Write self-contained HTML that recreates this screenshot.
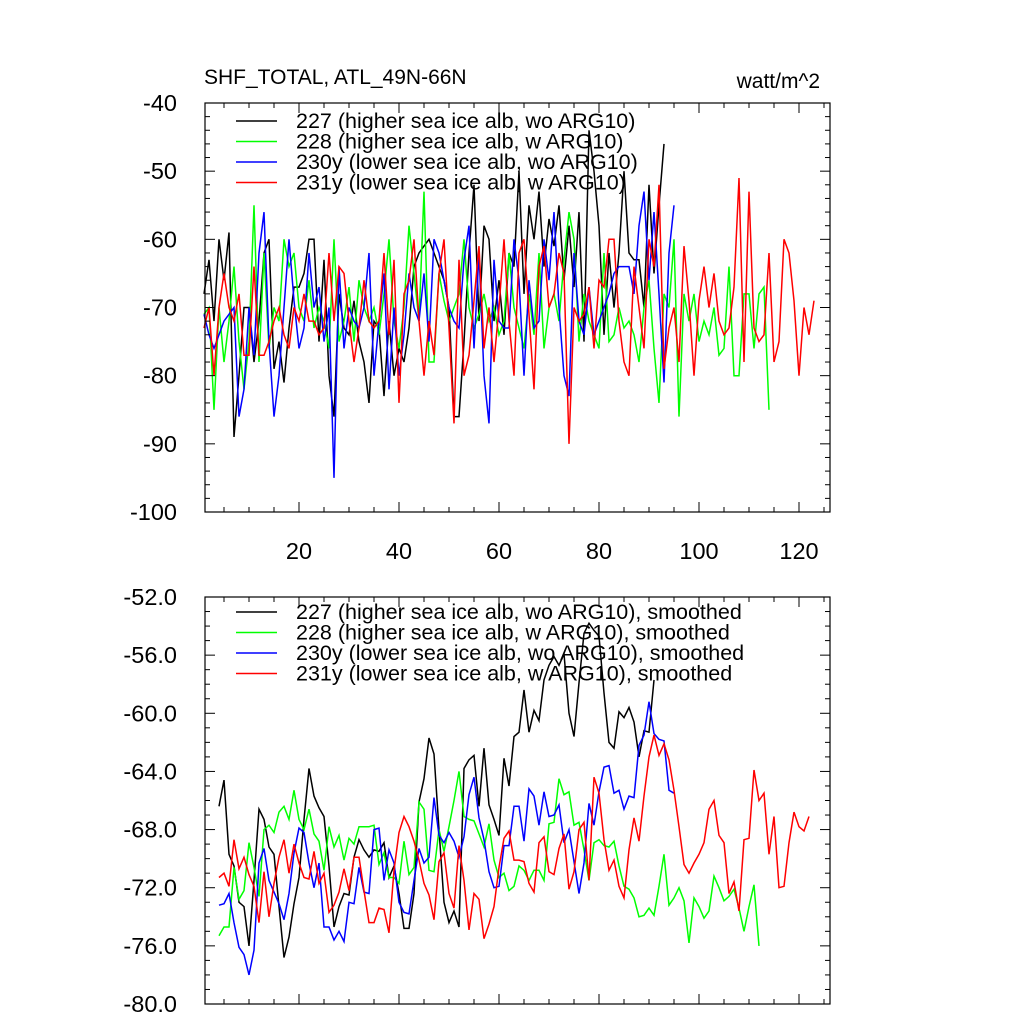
<!DOCTYPE html>
<html><head><meta charset="utf-8"><style>
body{margin:0;background:#fff}
svg text{font-family:"Liberation Sans",sans-serif;fill:#000}
</style></head><body>
<svg id="c" width="1024" height="1024" xmlns="http://www.w3.org/2000/svg"></svg>
<script>
const topBlack=[-68,-63,-72,-60,-66,-59,-89,-80,-70,-70,-78,-72,-62,-60,-79,-75,-81,-73,-67,-67,-65,-60,-60,-75,-63,-80,-86,-68,-73,-74,-69,-75,-78,-84,-72,-73,-83,-72,-80,-76,-78,-73,-64,-62,-61,-60,-62,-64,-66,-70,-86,-86,-75,-62,-52,-72,-58,-60,-72,-66,-74,-62,-64,-50,-68,-55,-60,-53,-64,-57,-61,-55,-66,-58,-67,-56,-75,-44,-50,-58,-74,-62,-70,-62,-50,-62,-63,-63,-70,-52,-65,-55,-46];
const topGreen=[-71,-70,-85,-70,-78,-72,-64,-75,-82,-75,-55,-78,-62,-76,-70,-72,-60,-64,-62,-70,-72,-66,-73,-70,-72,-76,-60,-75,-72,-67,-75,-66,-70,-72,-70,-74,-68,-60,-72,-76,-70,-58,-65,-72,-53,-78,-78,-65,-69,-72,-70,-68,-60,-70,-73,-71,-68,-72,-70,-74,-72,-62,-70,-73,-76,-68,-74,-62,-76,-70,-68,-72,-63,-56,-60,-75,-68,-72,-74,-76,-62,-75,-74,-70,-73,-72,-74,-78,-70,-66,-76,-84,-68,-70,-60,-86,-68,-72,-68,-75,-72,-74,-70,-77,-76,-64,-80,-80,-68,-68,-76,-68,-67,-85];
const topBlue=[-71,-74,-76,-74,-72,-71,-70,-86,-82,-70,-77,-62,-56,-75,-86,-80,-70,-60,-69,-76,-73,-62,-70,-67,-75,-70,-95,-64,-76,-70,-72,-73,-70,-62,-80,-72,-65,-82,-70,-80,-74,-65,-70,-72,-65,-75,-60,-62,-66,-70,-72,-73,-63,-58,-76,-62,-80,-87,-63,-72,-73,-73,-60,-66,-80,-66,-73,-72,-60,-66,-56,-70,-80,-83,-62,-72,-74,-67,-74,-72,-70,-68,-65,-64,-64,-64,-68,-58,-53,-66,-56,-68,-81,-62,-55];
const topRed=[-73,-70,-80,-70,-65,-70,-72,-68,-77,-77,-64,-77,-77,-75,-72,-70,-74,-76,-70,-72,-68,-72,-72,-74,-73,-62,-72,-64,-65,-72,-78,-73,-66,-72,-73,-72,-62,-74,-63,-84,-68,-66,-60,-72,-80,-72,-77,-65,-60,-73,-87,-63,-80,-77,-69,-61,-76,-70,-78,-70,-60,-72,-80,-62,-60,-71,-82,-64,-61,-70,-68,-62,-65,-90,-70,-72,-71,-67,-76,-66,-67,-60,-60,-72,-78,-80,-64,-70,-76,-60,-64,-52,-79,-73,-70,-78,-61,-69,-80,-69,-64,-70,-65,-72,-74,-73,-67,-51,-78,-53,-73,-75,-74,-62,-78,-75,-60,-62,-69,-80,-70,-74,-69];
const botBlack=[-66.4,-64.6,-69.7,-70.5,-73,-73.3,-76,-71.5,-66.6,-67.3,-69.2,-69.7,-73.3,-76.8,-75.4,-73.1,-71.3,-67.3,-63.8,-65.7,-66.5,-67.1,-70.5,-74.7,-73.3,-72.4,-72.5,-69.9,-68.7,-69.4,-69.9,-69.4,-69.5,-68.9,-71.3,-70.5,-72.4,-74.8,-74.8,-72.4,-66.1,-64.5,-61.7,-62.8,-68,-73,-74.4,-73.6,-74.7,-63.8,-63.2,-62.9,-66.4,-62.4,-66.3,-67.3,-68.4,-63.1,-65,-61.6,-61.3,-58.4,-61.3,-59.8,-60.5,-57.7,-56.7,-56.1,-56.7,-55.9,-60,-61.6,-57.9,-54.5,-53.8,-54.3,-54.7,-58.6,-62,-62.4,-59.9,-60.3,-59.6,-60.6,-63,-61.2,-61.3,-57.7];
const botGreen=[-75.3,-74.7,-74.7,-70.6,-72.8,-72.2,-68.9,-70.6,-72.6,-68,-67.7,-68.2,-66.8,-66.4,-67.3,-65.3,-67.3,-68,-66.6,-68.3,-68.8,-70.8,-67.8,-69.2,-68.4,-70.1,-68.6,-69,-67.8,-67.8,-67.8,-67.7,-70.4,-69.6,-71.3,-71.3,-71.7,-68.8,-71.1,-70.6,-66.1,-66.6,-70.8,-70.9,-68,-69.5,-67.8,-66,-64,-67.1,-67.3,-67.4,-68.3,-69.2,-67.6,-70.1,-71.3,-71,-72.2,-71.9,-70.5,-70.8,-71.5,-70.8,-70.8,-71.5,-67.6,-67.5,-64.5,-65.6,-65.4,-67.7,-67.5,-69.4,-71.5,-68.9,-68.7,-69.1,-69.2,-68.8,-70.5,-71.9,-72.1,-72.7,-74,-73.9,-73.4,-73.9,-71.9,-69.7,-73.2,-72.7,-72,-72.9,-75.8,-72.7,-73.3,-74.1,-73.6,-71.2,-72,-72.9,-72.6,-72.1,-73.4,-75,-73.3,-71.8,-76];
const botBlue=[-73.2,-73.1,-72.4,-74.4,-76.1,-76.6,-78,-76.3,-70.3,-69.3,-71.5,-72.3,-73.1,-74.2,-72.4,-69.6,-67.9,-68.2,-70.3,-72,-70.3,-74.7,-74.7,-75.6,-75,-75.7,-73,-73.1,-70.6,-72.3,-72.4,-68,-67.9,-71.5,-69.4,-70.3,-73,-73.7,-73.8,-71.5,-69.3,-70.3,-69.9,-65.8,-68.4,-68.9,-68.2,-68.8,-69.9,-68.5,-65.6,-64.4,-67.2,-68.7,-70.9,-72,-71.9,-69.1,-69.1,-66.4,-66.4,-68.8,-65.2,-65.7,-67.7,-65.4,-67.1,-67,-66.3,-68.9,-68,-70.2,-72.4,-70.3,-66.2,-67.7,-65.4,-63.7,-63.6,-65.5,-65.3,-66.6,-65.7,-65.8,-62.2,-61.5,-59.2,-61.4,-61.8,-61.9,-65.3,-65.5];
const botRed=[-71.3,-71,-71.9,-68.7,-70.7,-69.9,-71.1,-71.9,-74.4,-70.9,-74,-71.7,-69.9,-68.7,-71,-69,-70.3,-71.3,-71.4,-69.5,-71.7,-71,-73.7,-73.2,-72.3,-70.7,-72.2,-69.9,-69.9,-72.2,-74.4,-74.4,-73.4,-73.5,-75.1,-70.8,-68.2,-67.1,-67.8,-68.8,-70.1,-71.7,-72.5,-74.2,-70.2,-69.6,-72.4,-73.4,-69.1,-71.5,-74.9,-72.4,-72.8,-75.5,-74.5,-73.3,-70.6,-68.6,-68.1,-70.1,-70.1,-70.2,-71.7,-72.3,-68.9,-68.5,-70.9,-71.1,-69.3,-68.3,-72.1,-70.9,-68,-67.5,-71.5,-64.4,-65.5,-68.7,-70.8,-70.1,-71.9,-72.7,-69.4,-67.2,-68.8,-65.7,-63,-61.5,-62.9,-62.1,-63.2,-65.3,-67.8,-70.4,-71,-70.3,-69.7,-68.9,-66.6,-66,-68.4,-68.9,-72.4,-71.6,-73.6,-68.7,-68.6,-63.9,-66,-65.5,-69.7,-67.1,-72,-71.9,-68.9,-66.8,-67.8,-68.1,-67.1];
const topYTicks=[-40,-50,-60,-70,-80,-90,-100];
const botYTicks=[-52,-56,-60,-64,-68,-72,-76,-80];
const xTicks=[20,40,60,80,100,120];
const legendTop=["227 (higher sea ice alb, wo ARG10)","228 (higher sea ice alb, w ARG10)","230y (lower sea ice alb, wo ARG10)","231y (lower sea ice alb, w ARG10)"];
const legendBot=["227 (higher sea ice alb, wo ARG10), smoothed","228 (higher sea ice alb, w ARG10), smoothed","230y (lower sea ice alb, wo ARG10), smoothed","231y (lower sea ice alb, w ARG10), smoothed"];
const colors=["#000","#00ff00","#0000ff","#ff0000"];
const svg=document.getElementById('c');const NS="http://www.w3.org/2000/svg";
function mk(t,a,p){const e=document.createElementNS(NS,t);for(const k in a)e.setAttribute(k,a[k]);(p||svg).appendChild(e);return e;}
const L=205,R=830;
const xs=x=>199+5*x;
function panel(name,T,B,ymax,ymin,yt,minorStep,fmt,series,start,legend,ly,showX){
  const g=mk('g',{});
  const ys=v=>T+(ymax-v)/(ymax-ymin)*(B-T);
  series.forEach((s,i)=>{const p=mk('polyline',{points:s.map((v,j)=>xs(j+start)+','+ys(v).toFixed(1)).join(' '),fill:'none',stroke:colors[i],'stroke-width':1.5},g);
    });
  mk('rect',{x:L,y:T,width:R-L,height:B-T,fill:'none',stroke:'#000','stroke-width':1.2},g);
  for(let v=ymax;v>=ymin-1e-9;v-=minorStep){const y=ys(v);const maj=yt.some(t=>Math.abs(t-v)<1e-6);const len=maj?10:5;
    mk('line',{x1:L,x2:L+len,y1:y,y2:y,stroke:'#000'},g);mk('line',{x1:R,x2:R-len,y1:y,y2:y,stroke:'#000'},g);}
  yt.forEach(v=>{const t=mk('text',{x:177,y:ys(v)+8,'font-size':23.5,'text-anchor':'end'},g);t.textContent=fmt(v);
    });
  for(let x=5;x<=125;x+=5){const px=xs(x);const maj=x%20==0;const len=maj?10:5;
    mk('line',{x1:px,x2:px,y1:B,y2:B-len,stroke:'#000'},g);mk('line',{x1:px,x2:px,y1:T,y2:T+len,stroke:'#000'},g);}
  if(showX)xTicks.forEach(x=>{const t=mk('text',{x:xs(x),y:B+47,'font-size':23.5,'text-anchor':'middle'},g);t.textContent=x;
    });
  legend.forEach((s,i)=>{const y=ly+i*20.5;const e=mk('g',{},g);
    mk('line',{x1:236,x2:277,y1:y,y2:y,stroke:colors[i],'stroke-width':1.5},e);
    const t=mk('text',{x:296,y:y+7,'font-size':21.5},e);t.textContent=s;});
}
panel('top-panel',103,512,-40,-100,topYTicks,2,v=>String(v),[topBlack,topGreen,topBlue,topRed],1,legendTop,121,true);
panel('bottom-panel',597,1004,-52,-80,botYTicks,1,v=>v.toFixed(1),[botBlack,botGreen,botBlue,botRed],4,legendBot,612,false);
let t=mk('text',{x:204,y:84,'font-size':21});t.textContent="SHF_TOTAL, ATL_49N-66N";

t=mk('text',{x:820,y:88,'font-size':21,'text-anchor':'end'});t.textContent="watt/m^2";

</script>
</body></html>
